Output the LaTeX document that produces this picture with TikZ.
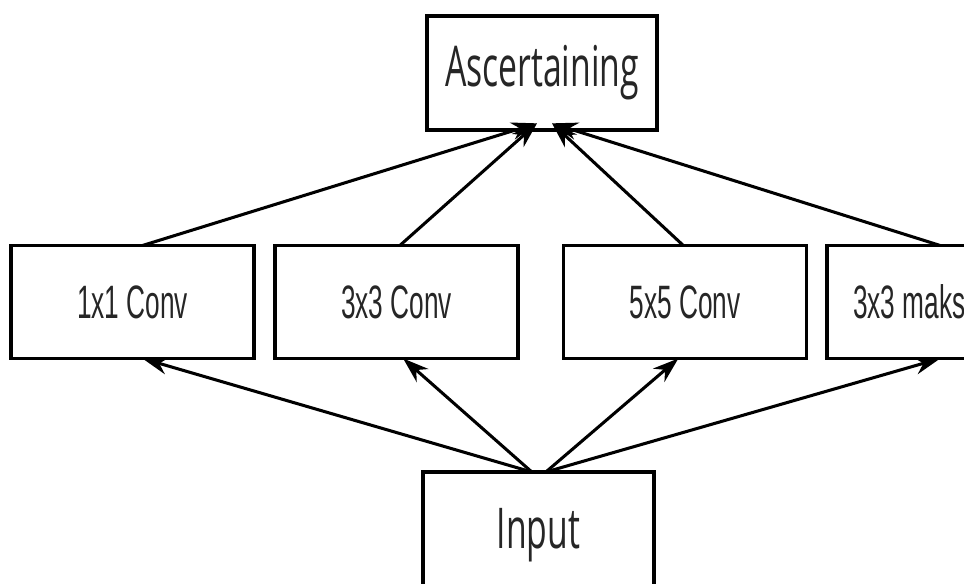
\documentclass[tikz,border=0pt]{standalone}
\usepackage{fontspec}
\newfontfamily\headfont[FakeStretch=0.6]{Open Sans}
\newfontfamily\convfont[FakeStretch=0.56]{Liberation Sans}
\usetikzlibrary{arrows.meta}

\begin{document}
\begin{tikzpicture}[> = {Stealth[length=22pt,width=15pt]}, % arrow head style
	x=0.03cm,y=-0.03cm, % measured in pixels of the sketch
	line width=2.6pt,
	every node/.style={draw,rectangle,inner sep=0pt,outer sep=0pt,text=black!85},
	convbox/.style={minimum width=7.29cm,minimum height=3.39cm,font=\convfont\fontsize{40}{44}\selectfont},
	headbox/.style={font=\headfont\fontsize{48}{52}\selectfont}]
	\clip (0,0) rectangle (964,583);

	\node[headbox,minimum width=6.9cm,minimum height=3.42cm] (asc) at (542,73) {Ascertaining};
	\node[convbox] (c1) at (132.5,302) {1x1 Conv};
	\node[convbox] (c3) at (396.5,302) {3x3 Conv};
	\node[convbox] (c5) at (685,302) {5x5 Conv};
	\node[convbox] (mx) at (948.5,302) {\makebox[5.73cm][l]{3x3 maks}};
	\node[headbox,minimum width=6.93cm,minimum height=3.78cm] (inp) at (538.5,535) {Input};

	% up to ascertaining
	\draw[->] ([xshift=0.3cm]c1.north) -- ([xshift=-0.15cm,yshift=0.2cm]asc.south);
	\draw[->] ([xshift=0.1cm]c3.north) -- ([xshift=-0.15cm,yshift=0.2cm]asc.south);
	\draw[->] ([xshift=-0.05cm]c5.north) -- ([xshift=0.3cm,yshift=0.2cm]asc.south);
	\draw[->] ([xshift=-0.25cm]mx.north) -- ([xshift=0.3cm,yshift=0.2cm]asc.south);

	% out of input
	\draw[->] ([xshift=-0.2cm]inp.north) -- ([xshift=0.3cm]c1.south);
	\draw[->] ([xshift=-0.2cm]inp.north) -- ([xshift=0.2cm]c3.south);
	\draw[->] ([xshift=0.22cm]inp.north) -- ([xshift=-0.2cm]c5.south);
	\draw[->] ([xshift=0.22cm]inp.north) -- ([xshift=-0.25cm]mx.south);

\end{tikzpicture}
\end{document}
